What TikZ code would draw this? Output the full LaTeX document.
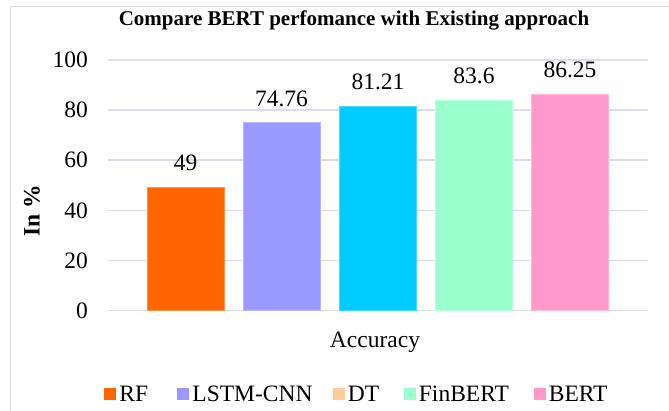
\documentclass[tikz,border=0pt]{standalone}
\usepackage{fontspec}
\setmainfont{Liberation Serif}
\definecolor{cRF}{HTML}{FF6600}
\definecolor{cLSTM}{HTML}{9999FF}
\definecolor{cDT}{HTML}{00CCFF}
\definecolor{cDTkey}{HTML}{FFCC99}
\definecolor{cFin}{HTML}{99FFCC}
\definecolor{cBERT}{HTML}{FF99CC}
\definecolor{gridc}{HTML}{DCDEE8}
\definecolor{framec}{HTML}{DDDDDD}
\begin{document}
\begin{tikzpicture}[x=1pt,y=-1pt,
  txt/.style={font=\fontsize{23.5}{25}\selectfont, inner sep=0pt},
  txtbf/.style={font=\fontsize{#1}{25}\selectfont\bfseries, inner sep=0pt},
  gridline/.style={draw=gridc, line width=1.5pt},
  barbox/.style={rectangle, inner sep=0pt, minimum width=77pt, anchor=south,
                 fill=#1, draw=#1!70!white, line width=0.8pt},
  keybox/.style={rectangle, inner sep=0pt, minimum size=12pt, fill=#1}]
\useasboundingbox (0,0) rectangle (669,410);
% x-axis caption (regular text set first)
\node[txt, anchor=base] (xlab) at (375,347) {Accuracy};
% horizontal grid and tick labels
\foreach \v in {0,20,...,100} {
  \draw[gridline] (108,{310.5-2.505*\v}) -- (648,{310.5-2.505*\v});
  \node[txt, anchor=east] (tick\v) at (88,{310.5-2.505*\v}) {\v};
}
% bars with value labels
\foreach \n/\x/\v/\c in {rf/185.5/49/cRF, lstm/281.5/74.76/cLSTM, dt/378/81.21/cDT,
                         fin/474/83.6/cFin, bert/570/86.25/cBERT} {
  \node[barbox=\c, minimum height={2.505*\v pt}] (bar-\n) at (\x,310.5) {};
  \node[txt, yshift=24pt] (val-\n) at (bar-\n.north) {\v};
}
% legend
\foreach \n/\x/\c/\t in {rf/110/cRF/RF, lstm/183/cLSTM/LSTM-CNN, dt/338.5/cDTkey/DT,
                         fin/409.5/cFin/FinBERT, bert/539.5/cBERT/BERT} {
  \node[keybox=\c] (key-\n) at (\x,394) {};
  \node[txt, anchor=west, xshift=3pt] (keytext-\n) at (key-\n.east) {\t};
}
% chart frame
\draw[framec, line width=1pt] (700,6) -- (10,6) -- (10,440);
% y-axis caption and title
\node[txtbf=23.5, rotate=90] (ylab) at (32,211) {In \%};
\node[txtbf=21] (title) at (354,20)
  {Compare BERT perfomance with Existing approach};
\end{tikzpicture}
\end{document}
